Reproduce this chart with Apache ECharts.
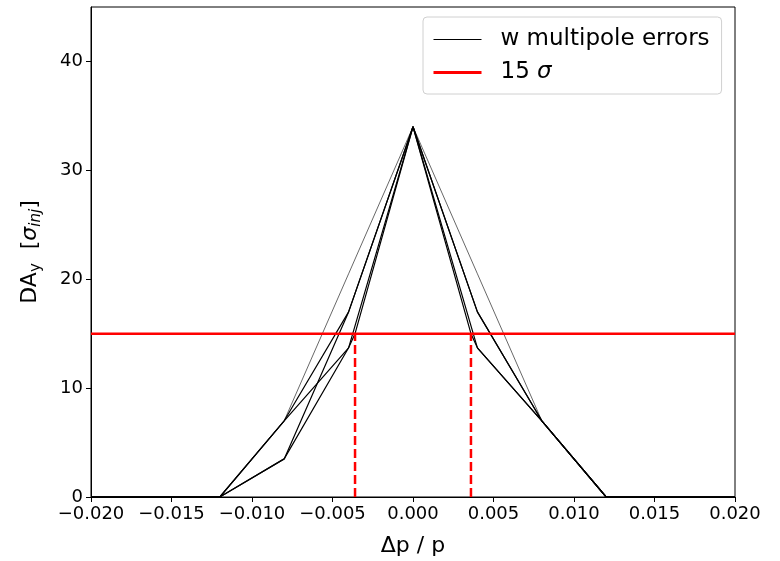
<!DOCTYPE html>
<html>
<head>
<meta charset="utf-8">
<script src="https://cdn.jsdelivr.net/npm/echarts@6/dist/echarts.min.js"></script>
<style>html,body{margin:0;padding:0;background:#fff}#c{width:780px;height:561px}</style>
</head>
<body>
<div id="c"></div>
<script>
// Δp/p sample points
const dp = [-0.02, -0.016, -0.012, -0.008, -0.004, 0, 0.004, 0.008, 0.012, 0.016, 0.02];
const dpKink = [-0.02, -0.016, -0.012, -0.008, -0.004, -0.0036, 0, 0.0036, 0.004, 0.008, 0.012, 0.016, 0.02];
// DA_y values for each seed (w multipole errors)
const seedA = [0, 0, 0, 7.0, 20.5, 34, 20.5, 7.0, 0, 0, 0];
const seedB = [0, 0, 0, 7.0, 17.0, 34, 17.0, 7.0, 0, 0, 0];
const seedC = [0, 0, 0, 3.5, 17.0, 34, 17.0, 7.0, 0, 0, 0];
const seedD = [0, 0, 0, 7.0, 13.7, 15, 34, 15, 13.7, 7.0, 0, 0, 0];
const seedE = [0, 0, 0, 3.5, 13.7, 34, 13.7, 7.0, 0, 0, 0];
// 15 sigma threshold and crossing points
const threshold = 15;
const crossings = [-0.0036, 0.0036];
const xTicks = [-0.02, -0.015, -0.01, -0.005, 0, 0.005, 0.01, 0.015, 0.02];
const xTickLabels = ['\u22120.020', '\u22120.015', '\u22120.010', '\u22120.005', '0.000', '0.005', '0.010', '0.015', '0.020'];
const yTicks = [0, 10, 20, 30, 40];

const FONT = 'DejaVu Sans';
const pairs = (xs, ys) => xs.map((x, i) => [x, ys[i]]);
const NAME = 'w multipole errors';
const SIG = '15 \u03c3';

const blackSeries = [
  {d: pairs(dp, seedA), w: 0.8, o: 0.75},
  {d: pairs(dp, seedB), w: 1.2, o: 1},
  {d: pairs(dp, seedC), w: 1.2, o: 1},
  {d: pairs(dpKink, seedD), w: 1.2, o: 1},
  {d: pairs(dp, seedE), w: 1.2, o: 1}
].map(s => ({
  name: NAME, type: 'line', data: s.d, symbol: 'none', silent: true, animation: false,
  lineStyle: {color: '#000', width: s.w, opacity: s.o}, itemStyle: {color: '#000'}
}));

const redSeries = [
  {name: SIG, type: 'line', data: [[xTicks[0], threshold], [xTicks[xTicks.length - 1], threshold]],
   symbol: 'none', animation: false, lineStyle: {color: '#ff0000', width: 2.5}, itemStyle: {color: '#ff0000'}, z: 5}
].concat(crossings.map(c => ({
  name: 'cross', type: 'line', data: [[c, 0], [c, threshold]], symbol: 'none', animation: false,
  lineStyle: {color: '#ff0000', width: 2.5, type: [9, 4]}, z: 5
})));

const chart = echarts.init(document.getElementById('c'), null, {renderer: 'canvas'});
chart.setOption({
  backgroundColor: '#fff',
  animation: false,
  grid: {left: 91, right: 45, top: 7, bottom: 64, show: true, borderColor: '#000', borderWidth: 1,
    backgroundColor: 'transparent', containLabel: false, outerBoundsMode: 'none'},
  legend: {
    data: [
      {name: NAME, lineStyle: {color: '#000', width: 1, opacity: 1}},
      {name: SIG, lineStyle: {color: '#ff0000', width: 3, opacity: 1}}
    ],
    orient: 'vertical',
    left: 423, top: 17,
    padding: [11, 12, 10, 9],
    itemWidth: 48, itemHeight: 14, itemGap: 10,
    borderColor: '#d0d0d0', borderWidth: 1, borderRadius: 4,
    backgroundColor: 'rgba(255,255,255,0.8)',
    selectedMode: false,
    itemStyle: {opacity: 0},
    formatter: n => n === SIG ? '15 {i|\u03c3}' : n,
    textStyle: {fontFamily: FONT, fontSize: 23, color: '#000', padding: [0, 0, 0, 14],
      rich: {i: {fontFamily: FONT, fontSize: 23, fontStyle: 'italic', color: '#000'}}}
  },
  xAxis: {
    type: 'value', min: -0.02, max: 0.02, interval: 0.005,
    name: '\u0394p / p', nameLocation: 'middle', nameGap: 38,
    nameTextStyle: {fontFamily: FONT, fontSize: 22, color: '#000'},
    axisLine: {onZero: false, lineStyle: {color: '#000', width: 1}},
    axisTick: {show: true, inside: false, length: 5, lineStyle: {color: '#000'}, customValues: xTicks},
    axisLabel: {fontFamily: FONT, fontSize: 18, color: '#000', margin: 8, customValues: xTicks,
      formatter: v => { const i = xTicks.findIndex(t => Math.abs(t - v) < 1e-9); return i >= 0 ? xTickLabels[i] : ''; }},
    splitLine: {show: false}
  },
  yAxis: {
    type: 'value', min: 0, max: 45, interval: 10,
    name: '{n|DA}{s|y}{n|  [}{i|\u03c3}{si|inj}{n|]}', nameLocation: 'middle', nameGap: 47,
    nameTextStyle: {fontFamily: FONT, fontSize: 22, color: '#000',
      rich: {
        n: {fontFamily: FONT, fontSize: 22, color: '#000', lineHeight: 28, verticalAlign: 'middle'},
        s: {fontFamily: FONT, fontSize: 15, color: '#000', verticalAlign: 'bottom', lineHeight: 28},
        i: {fontFamily: FONT, fontSize: 22, fontStyle: 'italic', color: '#000', lineHeight: 28},
        si: {fontFamily: FONT, fontSize: 15, fontStyle: 'italic', color: '#000', verticalAlign: 'bottom', lineHeight: 28}
      }},
    axisLine: {onZero: false, lineStyle: {color: '#000', width: 1}},
    axisTick: {show: true, inside: false, length: 5, lineStyle: {color: '#000'}, customValues: yTicks},
    axisLabel: {fontFamily: FONT, fontSize: 18, color: '#000', margin: 8, customValues: yTicks},
    splitLine: {show: false}
  },
  series: blackSeries.concat(redSeries)
});
</script>
</body>
</html>
